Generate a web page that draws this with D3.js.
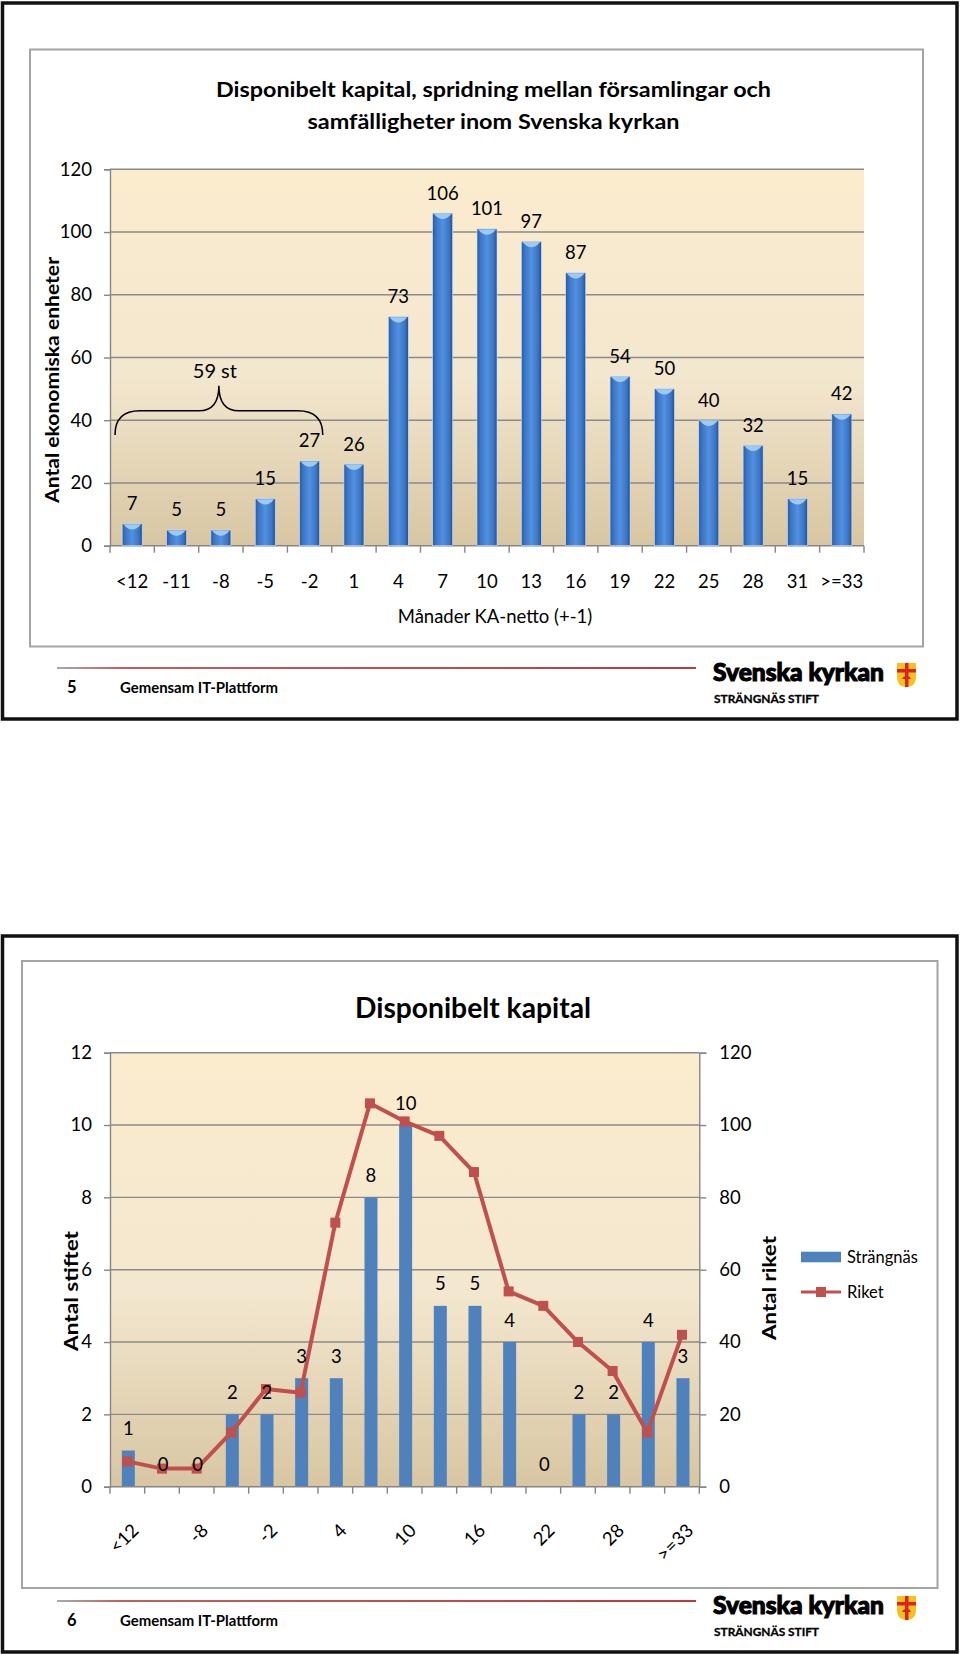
<!DOCTYPE html>
<html><head><meta charset="utf-8">
<script src="https://cdn.jsdelivr.net/npm/d3@7"></script>
<style>
body{margin:0;background:#fff}
svg{display:block}
text{font-family:Lato,"Open Sans",sans-serif;fill:#000}
</style>
</head><body>
<svg id="c" width="960" height="1654"></svg>
<script>
// ---------- data ----------
const categories = ["<12","-11","-8","-5","-2","1","4","7","10","13","16","19","22","25","28","31",">=33"];
const riketValues = [7,5,5,15,27,26,73,106,101,97,87,54,50,40,32,15,42];
const strangnasValues = [1,0,0,2,2,3,3,8,10,5,5,4,0,2,2,4,3];
const yTicks1 = [0,20,40,60,80,100,120];
const yTicks2Left = [0,2,4,6,8,10,12];
const yTicks2Right = [0,20,40,60,80,100,120];
const xLabels2 = categories.filter((d,i)=>i%2===0);
const title1 = ["Disponibelt kapital, spridning mellan församlingar och","samfälligheter inom Svenska kyrkan"];
const title2 = "Disponibelt kapital";
const xTitle1 = "Månader KA-netto (+-1)";
const yTitle1 = "Antal ekonomiska enheter";
const yTitle2L = "Antal stiftet";
const yTitle2R = "Antal riket";
const seriesNames = ["Strängnäs","Riket"];
const braceCount = 5; // first five categories bracketed

// ---------- setup ----------
const svg = d3.select("#c");
const defs = svg.append("defs");
function vgrad(id, stops){
  const g = defs.append("linearGradient").attr("id",id).attr("x1",0).attr("y1",0).attr("x2",0).attr("y2",1);
  stops.forEach(s=>g.append("stop").attr("offset",s[0]).attr("stop-color",s[1]));
}
function hgrad(id, stops){
  const g = defs.append("linearGradient").attr("id",id).attr("x1",0).attr("y1",0).attr("x2",1).attr("y2",0);
  stops.forEach(s=>g.append("stop").attr("offset",s[0]).attr("stop-color",s[1]));
}
vgrad("bg",[["0%","#fcecce"],["55%","#f3e7cf"],["100%","#d8c6a2"]]);
hgrad("bar",[["0%","#2a5ba3"],["18%","#3b76c8"],["50%","#5390de"],["82%","#3b76c8"],["100%","#24508f"]]);
hgrad("redline",[["0%","#a0a0a0"],["10%","#b85050"],["100%","#b0262c"]]);

const GRID = "#8a8a8a";
const AXIS = "#868686";

// ---------- frames ----------
function frame(y0, h, inner){
  svg.append("rect").attr("x",2.5).attr("y",y0).attr("width",954.5).attr("height",h)
    .attr("fill","none").attr("stroke","#111").attr("stroke-width",3.5);
  svg.append("rect").attr("x",inner[0]).attr("y",inner[1]).attr("width",inner[2]).attr("height",inner[3])
    .attr("fill","#fff").attr("stroke","#a4a4a4").attr("stroke-width",2);
}
function footer(lineY, pageNo){
  svg.append("rect").attr("x",57).attr("width",639).attr("y",lineY-0.9).attr("height",1.8)
    .attr("fill","url(#redline)");
  svg.append("text").attr("x",67).attr("y",lineY+25).attr("font-size",16.5).attr("font-weight",700).text(pageNo);
  svg.append("text").attr("x",120).attr("y",lineY+25).attr("font-size",15.5).attr("font-weight",700)
    .attr("textLength",158).attr("lengthAdjust","spacingAndGlyphs").text("Gemensam IT-Plattform");
  // logo
  svg.append("text").attr("x",713).attr("y",lineY+13).attr("font-size",25).attr("font-weight",900)
    .attr("font-family","'Liberation Sans',Arial,sans-serif").attr("textLength",171).attr("lengthAdjust","spacingAndGlyphs")
    .attr("stroke","#000").attr("stroke-width",1.1).text("Svenska kyrkan");
  svg.append("text").attr("x",714).attr("y",lineY+35).attr("font-size",11.5).attr("font-weight",700)
    .attr("font-family","'Liberation Sans',Arial,sans-serif").attr("textLength",105).attr("lengthAdjust","spacingAndGlyphs")
    .attr("stroke","#000").attr("stroke-width",0.3).text("STRÄNGNÄS STIFT");
  const sx=897, sy=lineY-5;
  svg.append("path").attr("d",`M${sx},${sy} h19 v13 q0,11 -9.5,11 q-9.5,0 -9.5,-11 z`).attr("fill","#f4c21a");
  svg.append("rect").attr("x",sx+8).attr("y",sy).attr("width",3.5).attr("height",24).attr("fill","#d8232a");
  svg.append("rect").attr("x",sx).attr("y",sy+6).attr("width",19).attr("height",3.5).attr("fill","#d8232a");
  svg.append("path").attr("d",`M${sx+5},${sy+16} l2,-3 l2.5,2 l2.5,-2 l2,3 z`).attr("fill","#d8232a");
}

// =========================== PANEL 1 ===========================
frame(3, 716, [30,49.5,893,597]);

title1.forEach((t,i)=>{
  svg.append("text").attr("x",493.5).attr("y",[97,129][i]).attr("text-anchor","middle")
    .attr("font-size",21).attr("font-weight",700)
    .attr("textLength",[555,372][i]).attr("lengthAdjust","spacingAndGlyphs").text(t);
});

const x1 = d3.scaleBand().domain(categories).range([110,864]);
const y1 = d3.scaleLinear().domain([0,120]).range([545.7,169.3]);
const p1 = svg.append("g");

p1.append("rect").attr("x",x1.range()[0]).attr("y",y1(120)).attr("width",x1.range()[1]-x1.range()[0])
  .attr("height",y1(0)-y1(120)).attr("fill","url(#bg)");
p1.selectAll("line.grid").data(yTicks1.filter(d=>d>0)).join("line")
  .attr("x1",x1.range()[0]).attr("x2",x1.range()[1]).attr("y1",d=>y1(d)).attr("y2",d=>y1(d))
  .attr("stroke",GRID).attr("stroke-width",1.4);

// y axis
const ya1 = p1.append("g").attr("transform",`translate(${x1.range()[0]},0)`)
  .call(d3.axisLeft(y1).tickValues(yTicks1).tickSize(6).tickPadding(12));
ya1.selectAll("path,line").attr("stroke",AXIS).attr("stroke-width",1.4);
ya1.selectAll("text").attr("font-size",18.5).attr("font-family","Lato,sans-serif").attr("fill","#000");

// x axis baseline + boundary ticks
p1.append("line").attr("x1",x1.range()[0]).attr("x2",x1.range()[1]).attr("y1",y1(0)).attr("y2",y1(0))
  .attr("stroke",AXIS).attr("stroke-width",1.4);
const bounds1 = categories.map(c=>x1(c)).concat([x1.range()[1]]);
p1.selectAll("line.xt").data(bounds1).join("line")
  .attr("x1",d=>d).attr("x2",d=>d).attr("y1",y1(0)).attr("y2",y1(0)+7)
  .attr("stroke",AXIS).attr("stroke-width",1.4);
p1.selectAll("text.xl").data(categories).join("text")
  .attr("x",d=>x1(d)+x1.bandwidth()/2).attr("y",582).attr("dy","0.35em")
  .attr("text-anchor","middle").attr("font-size",18.5).text(d=>d);

// bars
const bw1 = 20;
const bars1 = p1.selectAll("g.bar").data(riketValues).join("g");
bars1.append("rect")
  .attr("x",(d,i)=>x1(categories[i])+x1.bandwidth()/2-bw1/2).attr("y",d=>y1(d))
  .attr("width",bw1).attr("height",d=>y1(0)-y1(d)).attr("fill","url(#bar)")
  .attr("stroke","#cfe2f7").attr("stroke-width",0.6);
bars1.append("path")
  .attr("d",(d,i)=>{const xl=x1(categories[i])+x1.bandwidth()/2-bw1/2, t=y1(d);
    return `M${xl+1},${t+0.5} L${xl+bw1-1},${t+0.5} Q${xl+bw1/2},${t+11} ${xl+1},${t+0.5} Z`;})
  .attr("fill","#9ccaf3");
bars1.append("text")
  .attr("x",(d,i)=>x1(categories[i])+x1.bandwidth()/2).attr("y",d=>y1(d)-20).attr("dy","0.35em")
  .attr("text-anchor","middle").attr("font-size",18.5).text(d=>d);

// brace annotation
const bL = x1(categories[0])+5, bR = x1(categories[braceCount-1])+x1.bandwidth()-9;
const bM = (bL+bR)/2, bTop = y1(43), bEnd = y1(35.3), bPeak = y1(51);
p1.append("path")
  .attr("d",`M${bL},${bEnd} Q${bL},${bTop} ${bL+25},${bTop} L${bM-20},${bTop} Q${bM},${bTop} ${bM},${bPeak}
             Q${bM},${bTop} ${bM+20},${bTop} L${bR-25},${bTop} Q${bR},${bTop} ${bR},${bEnd}`)
  .attr("fill","none").attr("stroke","#000").attr("stroke-width",1.5);
p1.append("text").attr("x",bM-4).attr("y",bPeak-8).attr("text-anchor","middle").attr("font-size",20)
  .text(d3.sum(riketValues.slice(0,braceCount))+" st");

// titles
p1.append("text").attr("x",495).attr("y",617).attr("dy","0.35em").attr("text-anchor","middle")
  .attr("font-size",18.5).text(xTitle1);
p1.append("text").attr("transform","translate(53,380) rotate(-90)").attr("dy","0.35em")
  .attr("text-anchor","middle").attr("font-size",18.5).attr("font-weight",700)
  .attr("textLength",246).attr("lengthAdjust","spacingAndGlyphs").text(yTitle1);

footer(668, "5");

// =========================== PANEL 2 ===========================
frame(936, 716, [22,961,915.5,627]);

svg.append("text").attr("x",473).attr("y",1008).attr("dy","0.35em").attr("text-anchor","middle")
  .attr("font-size",28).attr("font-weight",700).attr("textLength",236).attr("lengthAdjust","spacingAndGlyphs").text(title2);

const x2 = d3.scaleBand().domain(categories).range([110,699.3]);
const y2L = d3.scaleLinear().domain([0,12]).range([1486.7,1052.7]);
const y2R = d3.scaleLinear().domain([0,120]).range([1486.7,1052.7]);
const p2 = svg.append("g");

p2.append("rect").attr("x",x2.range()[0]).attr("y",y2L(12)).attr("width",x2.range()[1]-x2.range()[0])
  .attr("height",y2L(0)-y2L(12)).attr("fill","url(#bg)");
p2.selectAll("line.grid").data(yTicks2Left.filter(d=>d>0)).join("line")
  .attr("x1",x2.range()[0]).attr("x2",x2.range()[1]).attr("y1",d=>y2L(d)).attr("y2",d=>y2L(d))
  .attr("stroke",GRID).attr("stroke-width",1.4);

const ya2 = p2.append("g").attr("transform",`translate(${x2.range()[0]},0)`)
  .call(d3.axisLeft(y2L).tickValues(yTicks2Left).tickSize(6).tickPadding(12));
const ya2r = p2.append("g").attr("transform",`translate(${x2.range()[1]},0)`)
  .call(d3.axisRight(y2R).tickValues(yTicks2Right).tickSize(7).tickPadding(13));
[ya2,ya2r].forEach(a=>{
  a.selectAll("path,line").attr("stroke",AXIS).attr("stroke-width",1.4);
  a.selectAll("text").attr("font-size",18.5).attr("font-family","Lato,sans-serif").attr("fill","#000");
});

// bars
const bw2 = 13;
p2.selectAll("rect.b2").data(strangnasValues).join("rect")
  .attr("x",(d,i)=>x2(categories[i])+x2.bandwidth()/2-bw2/2+1).attr("y",d=>y2L(d))
  .attr("width",bw2).attr("height",d=>y2L(0)-y2L(d)).attr("fill","#4f81bd");

// x axis
p2.append("line").attr("x1",x2.range()[0]).attr("x2",x2.range()[1]).attr("y1",y2L(0)).attr("y2",y2L(0))
  .attr("stroke",AXIS).attr("stroke-width",1.4);
const bounds2 = categories.map(c=>x2(c)).concat([x2.range()[1]]);
p2.selectAll("line.xt").data(bounds2).join("line")
  .attr("x1",d=>d).attr("x2",d=>d).attr("y1",y2L(0)).attr("y2",y2L(0)+7)
  .attr("stroke",AXIS).attr("stroke-width",1.4);
p2.selectAll("text.xl").data(xLabels2).join("text")
  .attr("transform",d=>`translate(${x2(d)+x2.bandwidth()/2+8},1527) rotate(-45)`)
  .attr("dy","0.35em").attr("text-anchor","end").attr("font-size",18.5).text(d=>d);

// line series
const line = d3.line().x((d,i)=>x2(categories[i])+x2.bandwidth()/2).y(d=>y2R(d));
p2.append("path").datum(riketValues).attr("d",line).attr("fill","none")
  .attr("stroke","#c0504d").attr("stroke-width",4).attr("stroke-linejoin","round");
p2.selectAll("rect.m").data(riketValues).join("rect")
  .attr("x",(d,i)=>x2(categories[i])+x2.bandwidth()/2-5).attr("y",d=>y2R(d)-5)
  .attr("width",10).attr("height",10).attr("fill","#c0504d");

// bar labels
p2.selectAll("text.bl").data(strangnasValues).join("text")
  .attr("x",(d,i)=>x2(categories[i])+x2.bandwidth()/2+1).attr("y",d=>y2L(d)-22).attr("dy","0.35em")
  .attr("text-anchor","middle").attr("font-size",18.5).text(d=>d);

// axis titles
p2.append("text").attr("transform","translate(72,1291) rotate(-90)").attr("dy","0.35em")
  .attr("text-anchor","middle").attr("font-size",18.5).attr("font-weight",700)
  .attr("textLength",120).attr("lengthAdjust","spacingAndGlyphs").text(yTitle2L);
p2.append("text").attr("transform","translate(770,1288) rotate(-90)").attr("dy","0.35em")
  .attr("text-anchor","middle").attr("font-size",18.5).attr("font-weight",700)
  .attr("textLength",104).attr("lengthAdjust","spacingAndGlyphs").text(yTitle2R);

// legend
const lg = p2.append("g");
lg.append("rect").attr("x",801).attr("y",1251.7).attr("width",40).attr("height",10.6).attr("fill","#4f81bd");
lg.append("line").attr("x1",801).attr("x2",841).attr("y1",1292).attr("y2",1292).attr("stroke","#c0504d").attr("stroke-width",3);
lg.append("rect").attr("x",816).attr("y",1287).attr("width",10).attr("height",10).attr("fill","#c0504d");
lg.selectAll("text").data(seriesNames).join("text")
  .attr("x",847).attr("y",(d,i)=>[1257,1292][i]).attr("dy","0.35em").attr("font-size",16.5).text(d=>d);

footer(1601, "6");
</script>
</body></html>
